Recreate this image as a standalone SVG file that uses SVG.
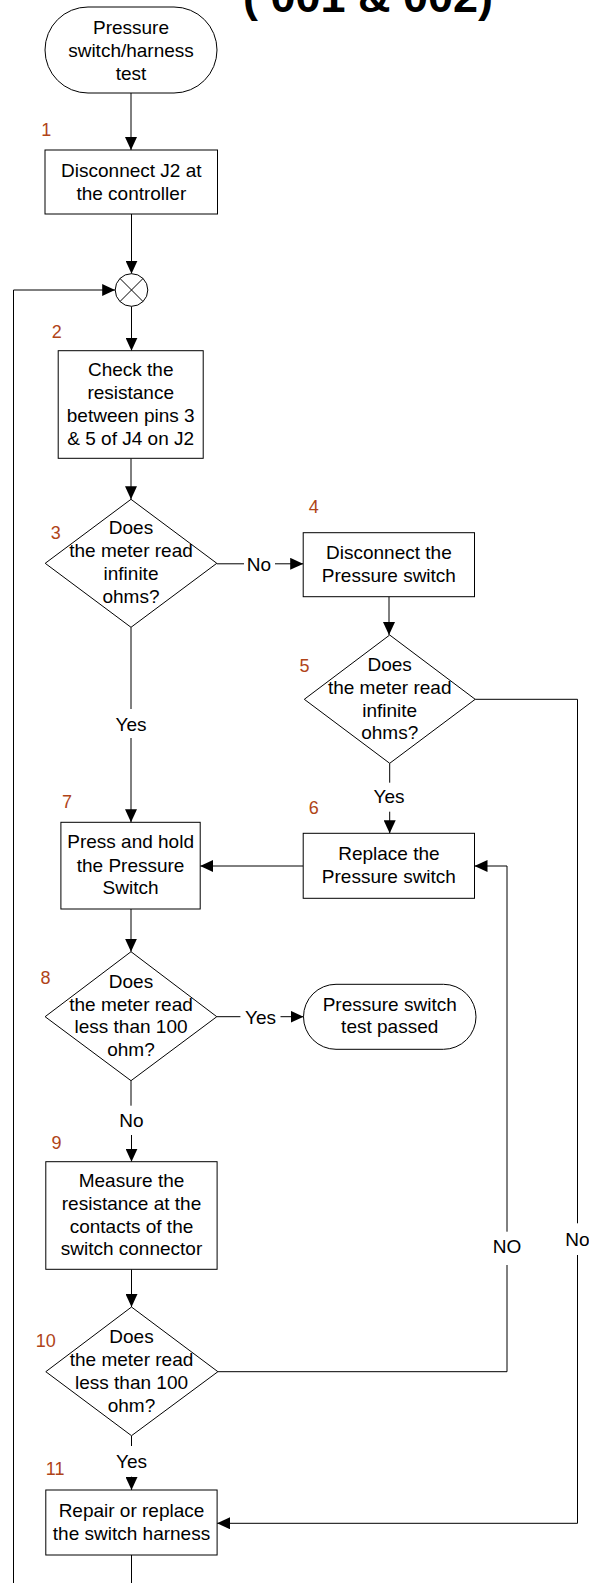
<svg xmlns="http://www.w3.org/2000/svg" width="589" height="1583" viewBox="0 0 589 1583">
  <defs>
    <style>
      .shape { fill: #fff; stroke: #000; stroke-width: 1; }
      .t { font-family: "Liberation Sans", Arial, Helvetica, sans-serif; font-size: 19px; fill: #000; text-anchor: middle; }
      .num { font-family: "Liberation Sans", Arial, Helvetica, sans-serif; font-size: 18px; fill: #B04418; }
      .title { font-family: "Liberation Sans", Arial, Helvetica, sans-serif; font-size: 44px; font-weight: bold; fill: #000; }
      .wire { fill: none; stroke: #000; stroke-width: 1; }
      .arrow { marker-end: url(#ah); }
    </style>
    <marker id="ah" markerUnits="userSpaceOnUse" markerWidth="13" markerHeight="12" refX="13" refY="6" orient="auto">
      <path d="M0,0 L13,6 L0,12 z" fill="#000"/>
    </marker>
  </defs>

  <rect width="589" height="1583" fill="#fff"/>

  <!-- page heading, mostly above the top edge -->
  <text class="title" x="243" y="12" textLength="250" lengthAdjust="spacingAndGlyphs">( 001 &amp; 002)</text>

  <!-- connectors -->
  <g id="connectors">
    <path class="wire arrow" d="M131,93 V150"/>
    <path class="wire arrow" d="M131.5,214 V273.7"/>
    <path class="wire arrow" d="M13.5,1583 V290 H115.2"/>
    <path class="wire arrow" d="M131.5,306.3 V350.7"/>
    <path class="wire arrow" d="M131,458.3 V499.3"/>
    <!-- 3 -> 4 : No -->
    <path class="wire" d="M216.8,563.8 H244"/>
    <text class="t" x="259" y="571">No</text>
    <path class="wire arrow" d="M275,563.8 H303.2"/>
    <path class="wire arrow" d="M389,596.7 V635"/>
    <!-- 3 -> 7 : Yes -->
    <path class="wire" d="M131,627.3 V709"/>
    <text class="t" x="131" y="730.7">Yes</text>
    <path class="wire arrow" d="M131,738 V822.3"/>
    <!-- 5 -> 6 : Yes -->
    <path class="wire" d="M389.7,763.3 V782.7"/>
    <text class="t" x="389" y="803.3">Yes</text>
    <path class="wire arrow" d="M389.7,811.7 V833.3"/>
    <!-- 5 -> 11 : No -->
    <path class="wire" d="M475.2,699.3 H577.5 V1223.3"/>
    <text class="t" x="577.5" y="1246">No</text>
    <path class="wire arrow" d="M577.5,1255 V1523.3 H217.1"/>
    <!-- 6 -> 7 -->
    <path class="wire arrow" d="M303.2,866 H200.2"/>
    <!-- 7 -> 8 -->
    <path class="wire arrow" d="M131,909 V951.7"/>
    <!-- 8 -> end : Yes -->
    <path class="wire" d="M216.8,1016.7 H240.4"/>
    <text class="t" x="260.5" y="1023.5">Yes</text>
    <path class="wire arrow" d="M280.5,1016.7 H303.5"/>
    <!-- 8 -> 9 : No -->
    <path class="wire" d="M131,1080.7 V1105.7"/>
    <text class="t" x="131.5" y="1126.7">No</text>
    <path class="wire arrow" d="M131.5,1135 V1161.7"/>
    <!-- 9 -> 10 -->
    <path class="wire arrow" d="M131.5,1269.3 V1307"/>
    <!-- 10 -> 6 : NO -->
    <path class="wire" d="M217.9,1371.7 H507 V1265"/>
    <text class="t" x="507" y="1253.3">NO</text>
    <path class="wire arrow" d="M507,1231.7 V866 H474.5"/>
    <!-- 10 -> 11 : Yes -->
    <path class="wire" d="M131.5,1435.7 V1446"/>
    <text class="t" x="131.5" y="1468.3">Yes</text>
    <path class="wire arrow" d="M131.5,1476.7 V1490"/>
    <!-- 11 back to the loop -->
    <path class="wire" d="M131.5,1555 V1583"/>
  </g>

  <g id="start">
    <rect class="shape" x="45" y="7" width="172" height="86" rx="43" ry="43"/>
    <text class="t" x="131" y="34.3">Pressure</text>
    <text class="t" x="131" y="57">switch/harness</text>
    <text class="t" x="131" y="79.7">test</text>
  </g>

  <g id="step1">
    <text class="num" x="41.3" y="136">1</text>
    <rect class="shape" x="45" y="150" width="172.5" height="64"/>
    <text class="t" x="131.3" y="176.7">Disconnect J2 at</text>
    <text class="t" x="131.3" y="200">the controller</text>
  </g>

  <g id="junction">
    <circle class="shape" cx="131.5" cy="290" r="16.3"/>
    <path class="wire" d="M120,278.5 L143,301.5 M143,278.5 L120,301.5"/>
  </g>

  <g id="step2">
    <text class="num" x="51.7" y="338.3">2</text>
    <rect class="shape" x="58.2" y="350.7" width="145" height="107.6"/>
    <text class="t" x="130.7" y="376">Check the</text>
    <text class="t" x="130.7" y="399.3">resistance</text>
    <text class="t" x="130.7" y="422.3">between pins 3</text>
    <text class="t" x="130.7" y="445.3">&amp; 5 of J4 on J2</text>
  </g>

  <g id="step3">
    <text class="num" x="50.7" y="539.3">3</text>
    <polygon class="shape" points="131,499.3 216.8,563.3 131,627.3 45.2,563.3"/>
    <text class="t" x="131" y="534">Does</text>
    <text class="t" x="131" y="557.3">the meter read</text>
    <text class="t" x="131" y="580">infinite</text>
    <text class="t" x="131" y="602.7">ohms?</text>
  </g>

  <g id="step4">
    <text class="num" x="308.8" y="512.7">4</text>
    <rect class="shape" x="303.2" y="532.7" width="171.3" height="64"/>
    <text class="t" x="388.9" y="559.3">Disconnect the</text>
    <text class="t" x="388.9" y="581.7">Pressure switch</text>
  </g>

  <g id="step5">
    <text class="num" x="299.4" y="671.7">5</text>
    <polygon class="shape" points="389.7,635 475.2,699.3 389.7,763.3 304.3,699.3"/>
    <text class="t" x="389.7" y="670.7">Does</text>
    <text class="t" x="389.7" y="694">the meter read</text>
    <text class="t" x="389.7" y="716.7">infinite</text>
    <text class="t" x="389.7" y="739.3">ohms?</text>
  </g>

  <g id="step6">
    <text class="num" x="308.8" y="814">6</text>
    <rect class="shape" x="303.2" y="833.3" width="171.3" height="65"/>
    <text class="t" x="388.9" y="860">Replace the</text>
    <text class="t" x="388.9" y="882.7">Pressure switch</text>
  </g>

  <g id="step7">
    <text class="num" x="62" y="808.3">7</text>
    <rect class="shape" x="60.9" y="822.3" width="139.3" height="86.7"/>
    <text class="t" x="130.6" y="848.3">Press and hold</text>
    <text class="t" x="130.6" y="871.7">the Pressure</text>
    <text class="t" x="130.6" y="894.3">Switch</text>
  </g>

  <g id="step8">
    <text class="num" x="40.6" y="984.3">8</text>
    <polygon class="shape" points="131,951.7 216.8,1016.7 131,1080.7 45.1,1016.7"/>
    <text class="t" x="131" y="987.7">Does</text>
    <text class="t" x="131" y="1010.7">the meter read</text>
    <text class="t" x="131" y="1033.3">less than 100</text>
    <text class="t" x="131" y="1056">ohm?</text>
  </g>

  <g id="passed">
    <rect class="shape" x="303.5" y="984.3" width="172.5" height="65" rx="32.5" ry="32.5"/>
    <text class="t" x="389.7" y="1010.7">Pressure switch</text>
    <text class="t" x="389.7" y="1033.3">test passed</text>
  </g>

  <g id="step9">
    <text class="num" x="51.5" y="1149.3">9</text>
    <rect class="shape" x="45.8" y="1161.7" width="171.3" height="107.6"/>
    <text class="t" x="131.5" y="1187.3">Measure the</text>
    <text class="t" x="131.5" y="1210">resistance at the</text>
    <text class="t" x="131.5" y="1232.7">contacts of the</text>
    <text class="t" x="131.5" y="1255">switch connector</text>
  </g>

  <g id="step10">
    <text class="num" x="35.7" y="1347.3">10</text>
    <polygon class="shape" points="131.5,1307 217.9,1371.7 131.5,1435.7 45.8,1371.7"/>
    <text class="t" x="131.5" y="1342.7">Does</text>
    <text class="t" x="131.5" y="1366">the meter read</text>
    <text class="t" x="131.5" y="1389">less than 100</text>
    <text class="t" x="131.5" y="1411.7">ohm?</text>
  </g>

  <g id="step11">
    <text class="num" x="45.8" y="1475">11</text>
    <rect class="shape" x="45.8" y="1490" width="171.3" height="65"/>
    <text class="t" x="131.5" y="1517.3">Repair or replace</text>
    <text class="t" x="131.5" y="1540">the switch harness</text>
  </g>
</svg>
